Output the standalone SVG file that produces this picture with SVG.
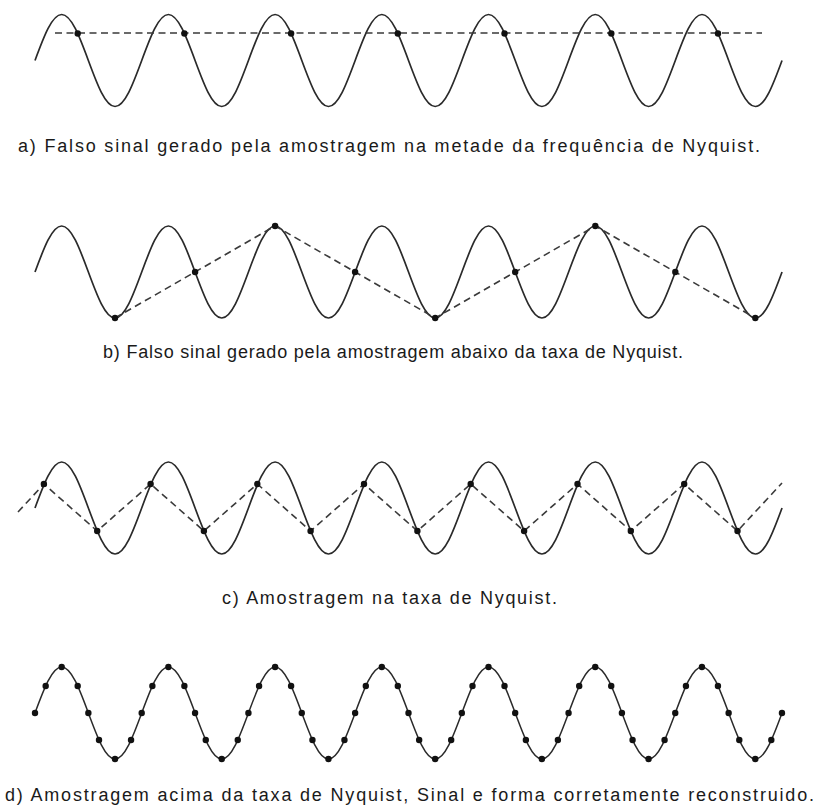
<svg xmlns="http://www.w3.org/2000/svg" xmlns:xlink="http://www.w3.org/1999/xlink" width="818" height="809" viewBox="0 0 818 809">
<style>
.wave{fill:none;stroke:#2a2a2a;stroke-width:1.7}
.dash{fill:none;stroke:#3a3a3a;stroke-width:1.6;stroke-dasharray:7 4.5}
.dot{fill:#111}
.cap{font-family:"Liberation Sans",Arial,sans-serif;font-size:18px;fill:#1a1a1a}
</style>
<defs>
<path id="sine" d="M0,0
c8.69,-23.54 17,-46 26.68,-46 c9.68,0 17.99,22.46 26.68,46 c8.69,23.54 17,46 26.68,46 c9.68,0 17.99,-22.46 26.68,-46
c8.69,-23.54 17,-46 26.68,-46 c9.68,0 17.99,22.46 26.68,46 c8.69,23.54 17,46 26.68,46 c9.68,0 17.99,-22.46 26.68,-46
c8.69,-23.54 17,-46 26.68,-46 c9.68,0 17.99,22.46 26.68,46 c8.69,23.54 17,46 26.68,46 c9.68,0 17.99,-22.46 26.68,-46
c8.69,-23.54 17,-46 26.68,-46 c9.68,0 17.99,22.46 26.68,46 c8.69,23.54 17,46 26.68,46 c9.68,0 17.99,-22.46 26.68,-46
c8.69,-23.54 17,-46 26.68,-46 c9.68,0 17.99,22.46 26.68,46 c8.69,23.54 17,46 26.68,46 c9.68,0 17.99,-22.46 26.68,-46
c8.69,-23.54 17,-46 26.68,-46 c9.68,0 17.99,22.46 26.68,46 c8.69,23.54 17,46 26.68,46 c9.68,0 17.99,-22.46 26.68,-46
c8.69,-23.54 17,-46 26.68,-46 c9.68,0 17.99,22.46 26.68,46 c8.69,23.54 17,46 26.68,46 c9.68,0 17.99,-22.46 26.68,-46"/>
<g id="dset">
<circle class="dot" cx="0" cy="0" r="3.2"/>
<circle class="dot" cx="10.67" cy="-27.04" r="3.2"/>
<circle class="dot" cx="26.68" cy="-46" r="3.2"/>
<circle class="dot" cx="42.68" cy="-27.04" r="3.2"/>
<circle class="dot" cx="53.36" cy="0" r="3.2"/>
<circle class="dot" cx="64.03" cy="27.04" r="3.2"/>
<circle class="dot" cx="80.03" cy="46" r="3.2"/>
<circle class="dot" cx="96.04" cy="27.04" r="3.2"/>
</g>
</defs>
<rect width="818" height="809" fill="#fff"/>

<g id="panel-a">
<use xlink:href="#sine" href="#sine" class="wave" transform="translate(35,60.5)"/>
<path class="dash" d="M55,33 H762"/>
<circle class="dot" cx="77.7" cy="33.5" r="3.2"/>
<circle class="dot" cx="184.4" cy="33.5" r="3.2"/>
<circle class="dot" cx="291.1" cy="33.5" r="3.2"/>
<circle class="dot" cx="397.8" cy="33.5" r="3.2"/>
<circle class="dot" cx="504.5" cy="33.5" r="3.2"/>
<circle class="dot" cx="611.3" cy="33.5" r="3.2"/>
<circle class="dot" cx="718" cy="33.5" r="3.2"/>
<text class="cap" x="18" y="152" textLength="742" lengthAdjust="spacing">a) Falso sinal gerado pela amostragem na metade da frequência de Nyquist.</text>
</g>

<g id="panel-b">
<use xlink:href="#sine" href="#sine" class="wave" transform="translate(35,272)"/>
<path class="dash" d="M115,318 L275.1,226 L435.2,318 L595.3,226 L755.3,318"/>
<circle class="dot" cx="115" cy="318" r="3.2"/>
<circle class="dot" cx="195.1" cy="272" r="3.2"/>
<circle class="dot" cx="275.1" cy="226" r="3.2"/>
<circle class="dot" cx="355.1" cy="272" r="3.2"/>
<circle class="dot" cx="435.2" cy="318" r="3.2"/>
<circle class="dot" cx="515.2" cy="272" r="3.2"/>
<circle class="dot" cx="595.3" cy="226" r="3.2"/>
<circle class="dot" cx="675.3" cy="272" r="3.2"/>
<circle class="dot" cx="755.3" cy="318" r="3.2"/>
<text class="cap" x="103" y="358" textLength="580" lengthAdjust="spacing">b) Falso sinal gerado pela amostragem abaixo da taxa de Nyquist.</text>
</g>

<g id="panel-c">
<use xlink:href="#sine" href="#sine" class="wave" transform="translate(35,508)"/>
<path class="dash" d="M18,512 L43.9,484 L97.2,531 L150.6,484 L203.9,531 L257.3,484 L310.6,531 L364,484 L417.4,531 L470.7,484 L524.1,531 L577.5,484 L630.8,531 L684.2,484 L737.5,531 L782,483"/>
<circle class="dot" cx="43.9" cy="484" r="3.2"/>
<circle class="dot" cx="97.2" cy="531" r="3.2"/>
<circle class="dot" cx="150.6" cy="484" r="3.2"/>
<circle class="dot" cx="203.9" cy="531" r="3.2"/>
<circle class="dot" cx="257.3" cy="484" r="3.2"/>
<circle class="dot" cx="310.6" cy="531" r="3.2"/>
<circle class="dot" cx="364" cy="484" r="3.2"/>
<circle class="dot" cx="417.4" cy="531" r="3.2"/>
<circle class="dot" cx="470.7" cy="484" r="3.2"/>
<circle class="dot" cx="524.1" cy="531" r="3.2"/>
<circle class="dot" cx="577.5" cy="484" r="3.2"/>
<circle class="dot" cx="630.8" cy="531" r="3.2"/>
<circle class="dot" cx="684.2" cy="484" r="3.2"/>
<circle class="dot" cx="737.5" cy="531" r="3.2"/>
<text class="cap" x="222" y="604" textLength="335" lengthAdjust="spacing">c) Amostragem na taxa de Nyquist.</text>
</g>

<g id="panel-d">
<use xlink:href="#sine" href="#sine" class="wave" transform="translate(35,713)" style="stroke-width:1.5"/>
<use xlink:href="#dset" href="#dset" transform="translate(35,713)"/>
<use xlink:href="#dset" href="#dset" transform="translate(141.71,713)"/>
<use xlink:href="#dset" href="#dset" transform="translate(248.42,713)"/>
<use xlink:href="#dset" href="#dset" transform="translate(355.13,713)"/>
<use xlink:href="#dset" href="#dset" transform="translate(461.84,713)"/>
<use xlink:href="#dset" href="#dset" transform="translate(568.55,713)"/>
<use xlink:href="#dset" href="#dset" transform="translate(675.26,713)"/>
<circle class="dot" cx="781.97" cy="713" r="3.2"/>
<text class="cap" x="5" y="801" textLength="809" lengthAdjust="spacing">d) Amostragem acima da taxa de Nyquist, Sinal e forma corretamente reconstruido.</text>
</g>
</svg>
